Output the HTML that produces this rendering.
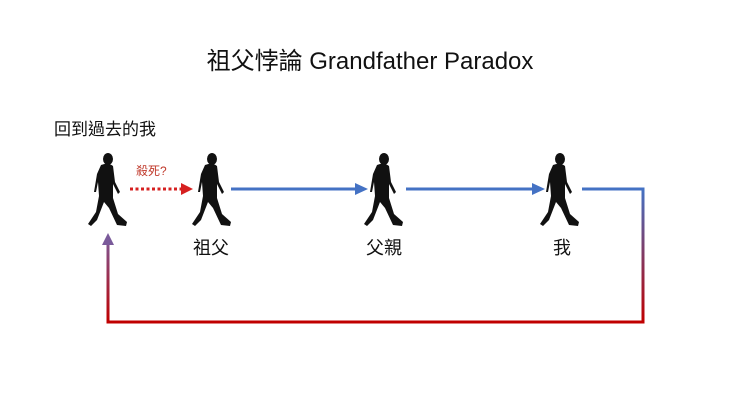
<!DOCTYPE html>
<html><head><meta charset="utf-8"><style>
html,body{margin:0;padding:0;background:#fff;}
body{width:740px;height:416px;overflow:hidden;position:relative;font-family:"Liberation Sans","Noto Sans CJK TC",sans-serif;}
.t{position:absolute;white-space:nowrap;color:#111;}
</style></head><body>
<svg width="740" height="416" style="position:absolute;left:0;top:0">
<defs>
<linearGradient id="gr" x1="0" y1="189" x2="0" y2="322" gradientUnits="userSpaceOnUse">
<stop offset="0" stop-color="#4472c4"/><stop offset="1" stop-color="#c00000"/></linearGradient>
<linearGradient id="gl" x1="0" y1="322" x2="0" y2="236" gradientUnits="userSpaceOnUse">
<stop offset="0" stop-color="#c00000"/><stop offset="1" stop-color="#7a5a9a"/></linearGradient>
<g id="man">
<ellipse cx="2" cy="7" rx="5" ry="6"/>
<path d="M-5,13 Q2,10 7,14 L9,30 L14,40 L12,42 L7,32 L7,46 L12,62 L21,70 L20,74 L11,73 L3,56 L-2,50 L-9,68 L-15,74 L-18,72 L-10,60 L-7,44 L-8,30 L-10,40 L-12,40 L-9,22 Z"/>
</g>
</defs>
<g fill="#111">
<use href="#man" transform="translate(106,152)"/>
<use href="#man" transform="translate(210,152)"/>
<use href="#man" transform="translate(382,152)"/>
<use href="#man" transform="translate(558,152)"/>
</g>
<line x1="130" y1="189" x2="182" y2="189" stroke="#d62020" stroke-width="3" stroke-dasharray="3,2.5"/>
<polygon points="181,183 193,189 181,195" fill="#d62020"/>
<line x1="231" y1="189" x2="357" y2="189" stroke="#4472c4" stroke-width="3"/>
<polygon points="355,183 368,189 355,195" fill="#4472c4"/>
<line x1="406" y1="189" x2="534" y2="189" stroke="#4472c4" stroke-width="3"/>
<polygon points="532,183 545,189 532,195" fill="#4472c4"/>
<line x1="582" y1="189" x2="643" y2="189" stroke="#4472c4" stroke-width="3"/>
<polyline points="643,187.5 643,322 " stroke="url(#gr)" stroke-width="3" fill="none"/>
<line x1="644.5" y1="322" x2="108" y2="322" stroke="#c00000" stroke-width="3"/>
<polyline points="108,323.5 108,244" stroke="url(#gl)" stroke-width="3" fill="none"/>
<polygon points="102,245 108,233 114,245" fill="#7a5a9a"/>
</svg>
<div class="t" style="left:0;width:740px;text-align:center;top:41px;font-size:24px;">祖父悖論 Grandfather Paradox</div>
<div class="t" style="left:54px;top:115px;font-size:17px;">回到過去的我</div>
<div class="t" style="left:136px;top:162px;font-size:12px;color:#c0392b;">殺死?</div>
<div class="t" style="left:193px;top:234px;font-size:18px;">祖父</div>
<div class="t" style="left:366px;top:234px;font-size:18px;">父親</div>
<div class="t" style="left:553px;top:234px;font-size:18px;">我</div>
</body></html>
